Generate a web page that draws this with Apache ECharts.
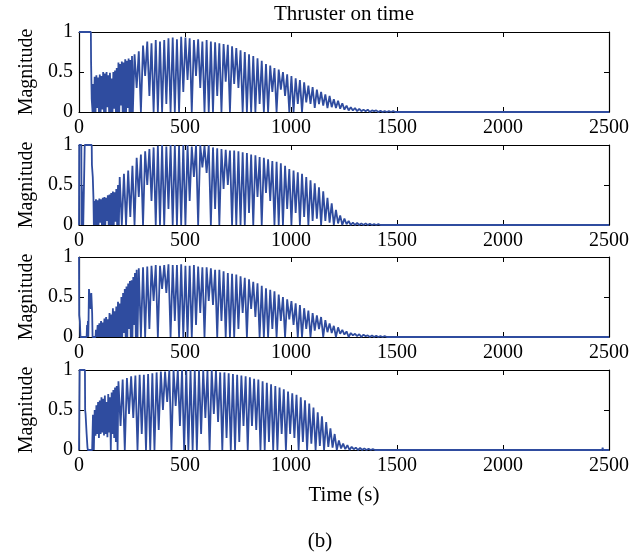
<!DOCTYPE html>
<html>
<head>
<meta charset="utf-8">
<script src="https://cdn.jsdelivr.net/npm/echarts@6/dist/echarts.min.js"></script>
<style>
  html, body { margin: 0; padding: 0; background: #fff; }
  #chart { width: 640px; height: 553px; }
</style>
</head>
<body>
<div id="chart"></div>
<script>
// Thruster on-time traces for four thrusters, 0-2500 s.
// Each trace: an initial transient, a dense burst (8 s cycles),
// regular pulses (20 s cycles: peak then trough) and small late blips.

const xTicks = [0, 500, 1000, 1500, 2000, 2500];
const yTicks = [0, 0.5, 1];

// ---------- thruster 1 ----------
const head1 = [[0, 1], [56, 1], [57, 0.62], [60, 0.16], [64, 0]];
const denseStart1 = [66];
const denseTop1 = [.35, .44, .46, .43, .47, .45, .5, .48, .5, .46, .49, .42, .5, .52, .55, .62, .6, .63, .62, .66, .64, .67, .65, .7];
const denseLow1 = [0, 0, .05, 0, 0, .03, 0, 0, .06, 0, 0, 0, .04, 0, 0, 0, .08, 0, 0, 0, .05, 0, 0, 0];
const pulseStart1 = [262];
const peaks1 = [.72, .76, .83, .88, .86, .9, .88, .9, .92, .93, .91, .94, .93, .92, .9, .91, .88, .9, .88, .87,
  .86, .85, .84, .82, .8, .77, .75, .72, .7, .67, .64, .6, .58, .55, .53, .5, .47, .45, .42, .4,
  .37, .33, .31, .28, .25, .22, .2, .16, .14, .11, .08, .06, .05, .04, .03, .03, .02, .02, .015, .01, .01, .01];
const troughs1 = [.3, 0, .45, .2, 0, 0, 0, .1, 0, 0, 0, .25, .4, 0, .45, .3, 0, 0, 0, .2,
  0, .38, 0, .35, .3, 0, 0, 0, 0, .1, 0, 0, .25, 0, .28, .2, 0, 0, .1, 0,
  .12, .1, .05, .1, .08, .05, .06, .05, .04, .03, .02, .02, .01, .01, .01, 0, .01, 0, 0, 0, 0, 0];
const blips1 = [[1498, .02], [1608, .015], [1734, .02], [1860, .02], [1905, .015], [2000, .02], [2100, .015], [2200, .02], [2290, .015], [2442, .025]];

// ---------- thruster 2 ----------
const head2 = [[0, 0], [1, 1], [11, 1], [12, 0], [13, 0.5], [19, 0.5], [20, 0], [26, 0], [27, 1], [60, 1], [61, .75], [65, .6], [68, .35], [70, 0]];
const denseStart2 = [72];
const denseTop2 = [.3, .32, .31, .33, .32, .34, .35, .34, .37, .38, .4, .42, .41, .45, .5];
const denseLow2 = [0, 0, 0, .03, 0, 0, 0, .05, 0, 0, 0, 0, .04, 0, 0];
const pulseStart2 = [192];
const peaks2 = [.6, .64, .68, .74, .84, .88, .92, .95, .97, .99, 1, .98, 1, 1, .99, 1, 1, .98, 1, 1,
  .99, 1, .97, .96, .95, .94, .93, .93, .92, .91, .9, .88, .87, .85, .84, .82, .8, .79, .77, .74,
  .7, .68, .66, .64, .6, .56, .52, .47, .42, .34, .27, .19, .12, .08, .05, .03, .025, .02, .02, .015, .01, .01];
const troughs2 = [0, 0, .1, 0, .35, 0, .5, .3, 0, 0, 0, .2, 0, 0, 0, 0, .3, .6, 0, .72,
  .65, 0, .2, 0, .45, .5, 0, 0, 0, 0, .15, 0, .35, 0, .4, .3, 0, 0, 0, .2,
  0, .15, 0, .1, 0, .05, .08, 0, .05, .03, 0, .02, 0, .01, 0, 0, 0, 0, 0, 0, 0, 0];
const blips2 = [[1451, .02], [1480, .02], [1530, .015], [1671, .02], [1720, .02], [1760, .015], [1828, .02], [1986, .02], [2206, .015], [2332, .02], [2434, .02]];

// ---------- thruster 3 ----------
const head3 = [[0, 1], [1, .27], [4, .2], [7, 0], [36, 0], [38, .15], [40, 0], [42, .2], [44, 0], [47, .6], [52, .58], [55, .35], [58, .55], [62, .3], [64, 0], [78, 0]];
const denseStart3 = [80];
const denseTop3 = [.09, .15, .17, .2, .18, .23, .25, .22, .3, .28, .36, .32, .38, .44, .42, .5, .55, .6, .63, .67, .7, .71, .75, .8, .84];
const denseLow3 = [0, 0, 0, 0, 0, 0, 0, 0, 0, 0, 0, 0, 0, 0, 0, 0, .05, 0, 0, .1, 0, 0, .15, 0, 0];
const pulseStart3 = [282];
const peaks3 = [.86, .87, .88, .89, .9, .89, .9, .91, .9, .9, .91, .89, .89, .9, .88, .87, .87, .86, .84, .84,
  .82, .8, .79, .78, .76, .74, .72, .69, .67, .64, .61, .59, .57, .53, .5, .47, .45, .42, .4, .36,
  .33, .3, .27, .25, .21, .17, .14, .12, .09, .07, .05, .04, .035, .03, .02, .02, .015, .01, .01];
const troughs3 = [0, 0, .1, .45, 0, .6, .55, 0, .2, 0, 0, 0, 0, .15, .3, 0, .45, .4, 0, .2,
  0, 0, 0, .1, .3, 0, .35, .25, 0, 0, 0, .1, 0, .2, 0, .22, .15, 0, 0, .1,
  0, .08, .1, 0, .06, .05, 0, .04, .03, 0, .02, .01, 0, .01, 0, 0, 0, 0, 0];
const blips3 = [[1500, .02], [1560, .015], [1700, .02], [1850, .015], [2000, .02], [2150, .015], [2300, .02], [2420, .015]];

// ---------- thruster 4 ----------
const head4 = [[0, 0], [3, 1], [28, 1], [29, .5], [31, .45], [36, .2], [40, .03], [42, 0], [62, 0]];
const denseStart4 = [66];
const denseTop4 = [.44, .5, .56, .6, .62, .66, .64, .68, .6, .7, .66, .72, .75, .78, .8];
const denseLow4 = [0, .18, .2, .15, .2, .22, .18, .2, .16, .22, 0, .2, .15, .1, 0];
const pulseStart4 = [186];
const peaks4 = [.86, .88, .9, .92, .93, .94, .94, .95, .96, .97, .98, .98, 1, 1, 1, 1, 1, 1, 1, 1,
  1, .99, 1, .99, .97, .97, .96, .95, .94, .93, .92, .91, .89, .88, .86, .84, .82, .8, .78, .76,
  .73, .71, .69, .66, .62, .58, .53, .47, .42, .35, .27, .2, .12, .08, .06, .04, .03, .025, .02, .015, .01];
const troughs4 = [.3, 0, .45, .4, 0, .2, 0, 0, 0, .25, .5, .6, 0, .55, .3, 0, 0, 0, 0, .2,
  .4, 0, .45, .35, 0, .15, 0, 0, .1, .3, 0, .3, .25, 0, 0, .1, 0, 0, .2, 0,
  .2, .15, 0, .1, 0, .08, 0, .05, 0, .04, .03, 0, .02, .01, 0, .01, 0, 0, 0, 0, 0];
const blips4 = [[1400, .02], [1430, .015], [1560, .02], [1620, .015], [1700, .02], [1760, .015], [1830, .02], [1900, .015], [2000, .02], [2100, .02], [2200, .015], [2300, .02], [2380, .015], [2470, .03]];

const X_MAX = 2500;

function buildTrace(head, dStart, dTop, dLow, pStart, peaks, troughs, blips) {
  const pts = head.map(p => p.slice());
  dTop.forEach((v, i) => {
    const t = dStart[0] + 8 * i;
    pts.push([t, v], [t + 4, dLow[i]]);
  });
  peaks.forEach((v, i) => {
    const t = pStart[0] + 20 * i;
    pts.push([t, v], [t + 10, troughs[i]]);
  });
  blips.forEach(([t, v]) => {
    pts.push([t - 2, 0], [t, v], [t + 2, 0]);
  });
  pts.push([X_MAX, 0]);
  return pts;
}

const traces = [
  buildTrace(head1, denseStart1, denseTop1, denseLow1, pulseStart1, peaks1, troughs1, blips1),
  buildTrace(head2, denseStart2, denseTop2, denseLow2, pulseStart2, peaks2, troughs2, blips2),
  buildTrace(head3, denseStart3, denseTop3, denseLow3, pulseStart3, peaks3, troughs3, blips3),
  buildTrace(head4, denseStart4, denseTop4, denseLow4, pulseStart4, peaks4, troughs4, blips4)
];

const FONT = '"Liberation Serif", "DejaVu Serif", serif';
const LINE_COLOR = '#2f4c9f';
const gridTops = [32, 145, 257, 370];

const grids = [], xAxes = [], yAxes = [], series = [];
gridTops.forEach((top, i) => {
  grids.push({ left: 79, right: 31, top: top, height: 80, containLabel: false });
  const tickStyle = { show: true, inside: true, length: 5, lineStyle: { color: '#000', width: 1 } };
  const axisLine = { show: true, onZero: false, lineStyle: { color: '#000', width: 1.2 } };
  xAxes.push({
    gridIndex: i, type: 'value', min: xTicks[0], max: xTicks[xTicks.length - 1], interval: 500,
    position: 'bottom', axisLine, axisTick: tickStyle, splitLine: { show: false },
    axisLabel: { color: '#000', fontFamily: FONT, fontSize: 20, margin: 6, formatter: v => String(v) }
  });
  xAxes.push({
    gridIndex: i, type: 'value', min: xTicks[0], max: xTicks[xTicks.length - 1], interval: 500,
    position: 'top', axisLine, axisTick: tickStyle, splitLine: { show: false },
    axisLabel: { show: false }
  });
  yAxes.push({
    gridIndex: i, type: 'value', min: yTicks[0], max: yTicks[yTicks.length - 1], interval: 0.5,
    position: 'left', axisLine, axisTick: tickStyle, splitLine: { show: false },
    axisLabel: { color: '#000', fontFamily: FONT, fontSize: 20, margin: 6, formatter: v => String(v) },
    name: 'Magnitude', nameLocation: 'middle', nameGap: 38, nameRotate: 90,
    nameTextStyle: { color: '#000', fontFamily: FONT, fontSize: 20 }
  });
  yAxes.push({
    gridIndex: i, type: 'value', min: yTicks[0], max: yTicks[yTicks.length - 1], interval: 0.5,
    position: 'right', axisLine, axisTick: tickStyle, splitLine: { show: false },
    axisLabel: { show: false }
  });
  series.push({
    type: 'line', xAxisIndex: 2 * i, yAxisIndex: 2 * i, data: traces[i],
    showSymbol: false, symbol: 'none', animation: false,
    lineStyle: { color: LINE_COLOR, width: 1.8 }, z: 3
  });
});

const chart = echarts.init(document.getElementById('chart'), null, { renderer: 'canvas' });
chart.setOption({
  backgroundColor: '#fff',
  animation: false,
  grid: grids,
  xAxis: xAxes,
  yAxis: yAxes,
  series: series,
  graphic: [
    { type: 'text', x: 344, y: 14, style: { text: 'Thruster on time', font: '21px ' + FONT, fill: '#000', align: 'center', verticalAlign: 'middle' } },
    { type: 'text', x: 344, y: 495, style: { text: 'Time (s)', font: '21px ' + FONT, fill: '#000', align: 'center', verticalAlign: 'middle' } },
    { type: 'text', x: 320, y: 541, style: { text: '(b)', font: '21px ' + FONT, fill: '#000', align: 'center', verticalAlign: 'middle' } }
  ]
});
</script>
</body>
</html>
